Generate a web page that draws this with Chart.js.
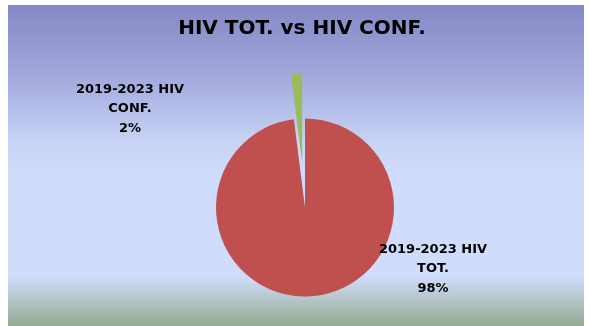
<!DOCTYPE html>
<html>
<head>
<meta charset="utf-8">
<script src="https://cdn.jsdelivr.net/npm/chart.js@4"></script>
<style>
  html, body { margin: 0; padding: 0; background: #ffffff; }
  #wrap { position: relative; width: 589px; height: 326px; overflow: hidden; }
  #panel {
    position: absolute; left: 8px; top: 5px; width: 576px; height: 321px;
    background: linear-gradient(to bottom,
      #8488c5 0px, #a2a8dc 70px, #c9d5f6 140px, #cfdcfb 175px,
      #cfdcfb 272px, #b5c5c8 295px, #94ab93 321px);
  }
  #chart { position: absolute; left: 0; top: 0; }
</style>
</head>
<body>
<div id="wrap">
  <div id="panel"></div>
  <canvas id="chart" width="589" height="326"></canvas>
</div>
<script>
// Pie data
const categories = ['2019-2023 HIV TOT.', '2019-2023 HIV CONF.'];
const values = [98, 2];
const labelLines = [['2019-2023 HIV', 'TOT.'], ['2019-2023 HIV', 'CONF.']];
const sliceColors = ['#c0504d', '#9bbb59'];
const chartTitle = 'HIV TOT. vs HIV CONF.';

const FONT = '"DejaVu Sans", sans-serif';

// How far each slice is pulled out of the pie (px)
const explode = [0, 45];
// Where each data label sits, relative to the pie centre
const labelShift = [{ dx: 128, dy: 42 }, { dx: -175, dy: -118 }];

const total = values.reduce((a, b) => a + b, 0);

// Move exploded slices along their mid angle without growing their radius
const explodePlugin = {
  id: 'explode',
  afterDatasetsUpdate(chart) {
    const meta = chart.getDatasetMeta(0);
    meta.data.forEach((arc, i) => {
      if (!explode[i]) return;
      const mid = (arc.startAngle + arc.endAngle) / 2;
      arc.x += Math.cos(mid) * explode[i];
      arc.y += Math.sin(mid) * explode[i];
    });
  }
};

// Title and the slice labels drawn straight onto the canvas
const textPlugin = {
  id: 'pieText',
  afterDraw(chart) {
    const ctx = chart.ctx;
    const meta = chart.getDatasetMeta(0);
    const cx0 = meta.data[0].x, cy0 = meta.data[0].y;
    ctx.save();
    ctx.fillStyle = '#000000';
    ctx.textAlign = 'center';
    ctx.textBaseline = 'middle';

    ctx.font = 'bold 20px ' + FONT;
    ctx.fillText(chartTitle, 302, 29);

    ctx.font = 'bold 13px ' + FONT;
    meta.data.forEach((arc, i) => {
      const pct = Math.round(values[i] / total * 100) + '%';
      const lines = labelLines[i].concat([pct]);
      const cx = cx0 + labelShift[i].dx;
      const cy = cy0 + labelShift[i].dy;
      lines.forEach((t, k) => ctx.fillText(t, cx, cy + k * 19.5));
    });
    ctx.restore();
  }
};

new Chart(document.getElementById('chart'), {
  type: 'pie',
  data: {
    labels: categories,
    datasets: [{
      data: values,
      backgroundColor: sliceColors,
      borderWidth: 0
    }]
  },
  options: {
    responsive: false,
    animation: false,
    events: [],
    radius: 89,
    layout: { padding: { left: 21, right: 0, top: 89, bottom: 0 } },
    plugins: {
      legend: { display: false },
      title: { display: false },
      tooltip: { enabled: false }
    }
  },
  plugins: [explodePlugin, textPlugin]
});
</script>
</body>
</html>
